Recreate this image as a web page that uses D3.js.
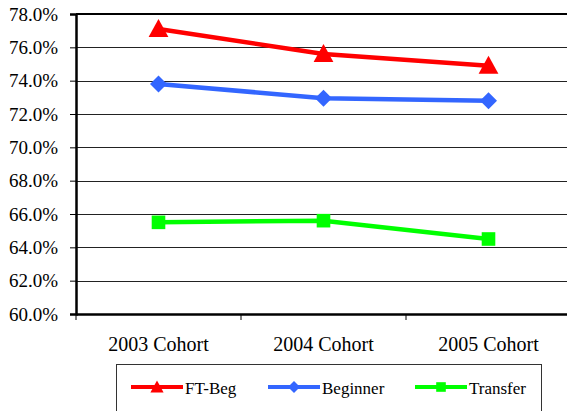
<script src="https://d3js.org/d3.v7.min.js"></script>
<html>
<body>
<script>
// cohort retention chart
var cohorts = ["2003 Cohort", "2004 Cohort", "2005 Cohort"];
var ftBeg = [77.1, 75.6, 74.9];
var beginner = [73.8, 72.95, 72.8];
var transfer = [65.5, 65.6, 64.5];
var yTicks = [60, 62, 64, 66, 68, 70, 72, 74, 76, 78];

var series = [
  {name: "FT-Beg", values: ftBeg, color: "#ff0000", shape: "triangle"},
  {name: "Beginner", values: beginner, color: "#3366ff", shape: "diamond"},
  {name: "Transfer", values: transfer, color: "#00ff00", shape: "square"}
];

var serifFont = "'Liberation Serif', 'Times New Roman', serif";
var W = 567, H = 411;
var plot = {left: 76, right: 571, top: 14, bottom: 314};

d3.select("body").style("margin", "0px");
var svg = d3.select("body").append("svg")
  .attr("width", W)
  .attr("height", H)
  .style("display", "block");

var x = d3.scaleBand()
  .domain(cohorts)
  .range([plot.left, plot.right]);
var y = d3.scaleLinear()
  .domain([60, 78])
  .range([plot.bottom, plot.top]);

// gridlines
svg.append("g").selectAll("line")
  .data(yTicks)
  .enter().append("line")
  .attr("x1", plot.left).attr("x2", plot.right)
  .attr("y1", d => Math.round(y(d)) + 0.5)
  .attr("y2", d => Math.round(y(d)) + 0.5)
  .attr("stroke", "#222")
  .attr("stroke-width", 1);

// top border
svg.append("line")
  .attr("x1", plot.left).attr("x2", plot.right)
  .attr("y1", plot.top).attr("y2", plot.top)
  .attr("stroke", "#000").attr("stroke-width", 2);

// y axis
var yAx = d3.axisLeft(y)
  .tickValues(yTicks)
  .tickSize(6)
  .tickPadding(12)
  .tickFormat(d => d.toFixed(1) + "%");
var yG = svg.append("g")
  .attr("transform", `translate(${plot.left},0)`)
  .call(yAx);
yG.select(".domain").attr("stroke-width", 2.5);
yG.selectAll(".tick line").attr("stroke", "#000");
yG.selectAll("text")
  .attr("fill", "#000")
  .attr("font-family", serifFont)
  .attr("font-size", 19);

// x axis
var xAx = d3.axisBottom(x)
  .tickSize(0)
  .tickPadding(23);
var xG = svg.append("g")
  .attr("transform", `translate(0,${plot.bottom})`)
  .call(xAx);
xG.select(".domain").attr("stroke-width", 2.5);
xG.selectAll("text")
  .attr("fill", "#000")
  .attr("font-family", serifFont)
  .attr("font-size", 20);
// boundary ticks between categories
xG.selectAll(".btick")
  .data(cohorts)
  .enter().append("line")
  .attr("x1", d => x(d)).attr("x2", d => x(d))
  .attr("y1", 0).attr("y2", 6)
  .attr("stroke", "#000");

function marker(g, shape, color, size) {
  if (shape == "triangle") {
    g.append("path").attr("d", `M0,${-size*0.55} L${size*0.55},${size*0.45} L${-size*0.55},${size*0.45} Z`).attr("fill", color);
  } else if (shape == "diamond") {
    g.append("path").attr("d", `M0,${-size/2} L${size/2},0 L0,${size/2} L${-size/2},0 Z`).attr("fill", color);
  } else {
    g.append("rect").attr("x", -size*0.4).attr("y", -size*0.4).attr("width", size*0.8).attr("height", size*0.8).attr("fill", color);
  }
}

var line = d3.line()
  .x((d, i) => x(cohorts[i]) + x.bandwidth() / 2)
  .y(d => y(d));

series.forEach(function(s) {
  svg.append("path")
    .datum(s.values)
    .attr("d", line)
    .attr("fill", "none")
    .attr("stroke", s.color)
    .attr("stroke-width", 4.5);
  s.values.forEach(function(v, i) {
    var g = svg.append("g")
      .attr("transform", `translate(${x(cohorts[i]) + x.bandwidth()/2},${y(v)})`);
    marker(g, s.shape, s.color, s.shape == "triangle" ? 18 : 17);
  });
});

// legend
svg.append("rect")
  .attr("x", 116.5).attr("y", 364.5)
  .attr("width", 425).attr("height", 60)
  .attr("fill", "none")
  .attr("stroke", "#333")
  .attr("stroke-width", 1);

var legX = [131, 268, 415];
series.forEach(function(s, i) {
  var lg = svg.append("g").attr("transform", `translate(${legX[i]},387)`);
  lg.append("line")
    .attr("x1", 0).attr("x2", 52)
    .attr("y1", 0).attr("y2", 0)
    .attr("stroke", s.color).attr("stroke-width", 4);
  var mg = lg.append("g").attr("transform", "translate(26,0)");
  marker(mg, s.shape, s.color, 12);
  lg.append("text")
    .attr("x", 54).attr("y", 7)
    .attr("font-family", serifFont)
    .attr("font-size", 17)
    .attr("fill", "#000")
    .text(s.name);
});
</script>
</body>
</html>
